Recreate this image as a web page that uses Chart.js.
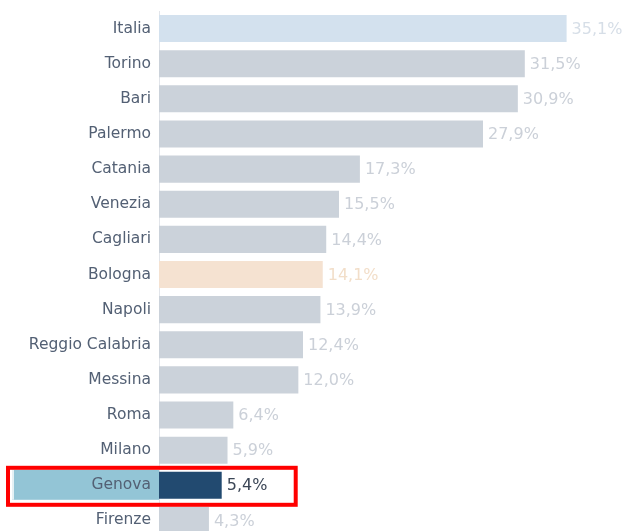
<!DOCTYPE html>
<html>
<head>
<meta charset="utf-8">
<script src="https://cdn.jsdelivr.net/npm/chart.js@4.4.0/dist/chart.umd.min.js"></script>
<style>
    html, body {
        margin: 0;
        padding: 0;
        background: #ffffff;
        overflow: hidden;
    }
    #wrap {
        position: relative;
        width: 627px;
        height: 538px;
    }
</style>
</head>
<body>
<div id="wrap">
    <canvas id="rankChart"></canvas>
</div>
<script>

/* =========================
   DATA
========================= */

const cities = [
    "Italia", "Torino", "Bari", "Palermo", "Catania",
    "Venezia", "Cagliari", "Bologna", "Napoli", "Reggio Calabria",
    "Messina", "Roma", "Milano", "Genova", "Firenze"
];

const shares = [
    35.1, 31.5, 30.9, 27.9, 17.3,
    15.5, 14.4, 14.1, 13.9, 12.4,
    12.0, 6.4, 5.9, 5.4, 4.3
];

const highlighted = "Genova";
const national = "Italia";
const compared = "Bologna";

/* =========================
   COLOURS
========================= */

function barColor(city) {
    if (city === highlighted) return "#224a70";
    if (city === national) return "#d3e1ee";
    if (city === compared) return "#f5e2d1";
    return "#cbd2da";
}

function labelColor(city) {
    if (city === highlighted) return "#3b4656";
    if (city === national) return "#d6dee7";
    if (city === compared) return "#f2dec9";
    return "#cbd0d8";
}

const FONT = "'DejaVu Sans', sans-serif";

/* =========================
   PLUGINS
========================= */

const highlightPlugin = {
    id: "highlightRow",
    beforeDraw(chart) {
        const ctx = chart.ctx;
        const y = chart.scales.y;
        const idx = cities.indexOf(highlighted);
        const cy = y.getPixelForValue(idx);
        ctx.save();
        ctx.fillStyle = "#93c5d6";
        ctx.fillRect(12, cy - 15.5, chart.chartArea.left - 12, 30);
        ctx.fillStyle = "#e4f1f5";
        ctx.fillRect(12, cy - 15.5, 2, 30);
        ctx.restore();
    },
    afterDraw(chart) {
        const ctx = chart.ctx;
        const x = chart.scales.x;
        const y = chart.scales.y;
        const idx = cities.indexOf(highlighted);
        const cy = y.getPixelForValue(idx);
        const right = x.getPixelForValue(shares[idx]) + 74;
        ctx.save();
        ctx.strokeStyle = "#ff0000";
        ctx.lineWidth = 4;
        ctx.strokeRect(8, cy - 17.5, right - 8, 37);
        ctx.restore();
    }
};

const valueLabels = {
    id: "valueLabels",
    afterDatasetsDraw(chart) {
        const ctx = chart.ctx;
        const meta = chart.getDatasetMeta(0);
        ctx.save();
        ctx.font = "16px " + FONT;
        ctx.textBaseline = "middle";
        ctx.textAlign = "left";
        meta.data.forEach((bar, i) => {
            ctx.fillStyle = labelColor(cities[i]);
            const txt = shares[i].toFixed(1).replace(".", ",") + "%";
            ctx.fillText(txt, bar.x + 5, bar.y + 1);
        });
        ctx.restore();
    }
};

/* =========================
   CHART
========================= */

const ctx = document.getElementById("rankChart");

new Chart(ctx, {
    type: "bar",
    data: {
        labels: cities,
        datasets: [
            {
                data: shares,
                backgroundColor: cities.map(barColor),
                borderWidth: 0,
                categoryPercentage: 1,
                barPercentage: 0.77
            }
        ]
    },
    options: {
        indexAxis: "y",
        responsive: true,
        maintainAspectRatio: false,
        animation: false,
        layout: {
            padding: { top: 11, right: 0, bottom: 0, left: 0 }
        },
        plugins: {
            legend: { display: false },
            tooltip: { enabled: false }
        },
        scales: {
            x: {
                display: false,
                min: 0,
                max: 40.3
            },
            y: {
                afterFit(scale) {
                    scale.width = 159;
                    scale.paddingTop = 0;
                    scale.paddingBottom = 0;
                },
                grid: { display: false, drawTicks: false },
                border: { display: true, color: "#e2e5ea", width: 1 },
                ticks: {
                    padding: 8,
                    color: "#536074",
                    font: { family: FONT, size: 15.5 }
                }
            }
        }
    },
    plugins: [highlightPlugin, valueLabels]
});

</script>
</body>
</html>
